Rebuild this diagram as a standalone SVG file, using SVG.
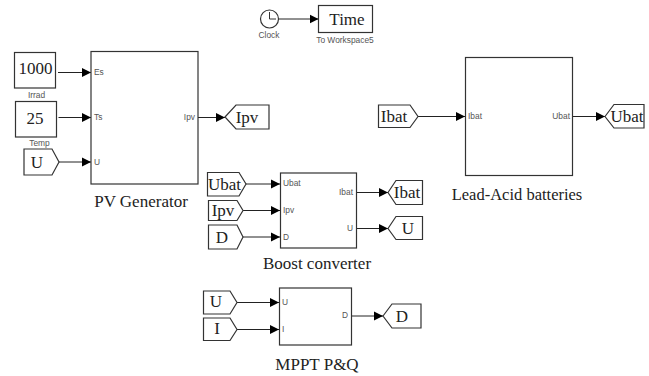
<svg xmlns="http://www.w3.org/2000/svg" width="649" height="376" viewBox="0 0 649 376">
<style>
.b{fill:#fff;stroke:#333;stroke-width:1.2}
.w{stroke:#222;stroke-width:1;fill:none;marker-end:url(#a)}
.t{font-family:"Liberation Serif",serif;fill:#222;text-anchor:middle;font-size:17px}
.p{font-family:"Liberation Sans",sans-serif;font-size:8.400px;fill:#555}
.e{text-anchor:end}
.n{text-anchor:middle}
</style>
<defs><marker id="a" markerUnits="userSpaceOnUse" markerWidth="10" markerHeight="10" refX="9" refY="5" orient="auto"><path d="M0 0.500L9 5L0 9.500Z" fill="#000"/></marker></defs>
<rect width="649" height="376" fill="#fff"/>
<g id="connectors">
<path class="w" d="M58 72.500H91"/>
<path class="w" d="M58.500 117.500H91"/>
<path class="w" d="M59 162H91"/>
<path class="w" d="M198 117.500H225"/>
<path class="w" d="M279 19H318.500"/>
<path class="w" d="M246 184H280"/>
<path class="w" d="M243 210.500H280"/>
<path class="w" d="M243 237H280"/>
<path class="w" d="M356 192.500H388"/>
<path class="w" d="M356 228.500H388"/>
<path class="w" d="M418 116.500H465"/>
<path class="w" d="M572 116.500H605"/>
<path class="w" d="M237 302.500H279"/>
<path class="w" d="M237 329.500H279"/>
<path class="w" d="M351 316H383"/>
</g>
<g id="clock"><circle class="b" cx="269.500" cy="19" r="9"/><path d="M269.500 12V19H276" fill="none" stroke="#333"/><text class="p n" x="269" y="38">Clock</text></g>
<g id="time"><rect class="b" x="318.500" y="5.500" width="54" height="27"/><text class="t" x="347" y="25">Time</text><text class="p n" x="345" y="43">To Workspace5</text></g>
<g id="irrad"><rect class="b" x="14.500" y="52.500" width="41" height="35.500"/><text class="t" x="35.500" y="74">1000</text><text class="p n" x="36.500" y="97.500">Irrad</text></g>
<g id="temp"><rect class="b" x="15.500" y="101.500" width="41" height="35.500"/><text class="t" x="35" y="124">25</text><text class="p n" x="39.500" y="146">Temp</text></g>
<g id="from-u1"><path class="b" d="M24 149H52L59 162L52 175H24Z"/><text class="t" x="37" y="168">U</text></g>
<g id="pv"><rect class="b" x="91" y="51.500" width="107" height="132.500"/><text class="p" x="94" y="75">Es</text><text class="p" x="94" y="120">Ts</text><text class="p" x="94" y="165">U</text><text class="p e" x="195" y="120">Ipv</text><text class="t" x="141" y="207">PV Generator</text></g>
<g id="goto-ipv"><path class="b" d="M225 117L236 105H269V129H236Z"/><text class="t" x="247" y="123">Ipv</text></g>
<g id="from-ubat"><path class="b" d="M207.500 172.500H239L246 184L239 196H207.500Z"/><text class="t" x="224.500" y="190">Ubat</text></g>
<g id="from-ipv"><path class="b" d="M208.500 200.500H237L243 210.500L237 220.500H208.500Z"/><text class="t" x="223" y="216">Ipv</text></g>
<g id="from-d"><path class="b" d="M208.500 225H237L243 237L237 249H208.500Z"/><text class="t" x="222" y="243">D</text></g>
<g id="boost"><rect class="b" x="280.500" y="173" width="76" height="75"/><text class="p" x="283" y="186">Ubat</text><text class="p" x="283" y="213">Ipv</text><text class="p" x="283" y="240">D</text><text class="p e" x="353" y="195">Ibat</text><text class="p e" x="353" y="231">U</text><text class="t" x="317" y="269">Boost converter</text></g>
<g id="goto-ibat"><path class="b" d="M388 192.500L396 180.500H422.500V204.500H396Z"/><text class="t" x="407" y="198">Ibat</text></g>
<g id="goto-u"><path class="b" d="M388 228.500L396 216.500H422.500V239.500H396Z"/><text class="t" x="408" y="234">U</text></g>
<g id="from-ibat"><path class="b" d="M378.500 105H410L418 116.500L410 127.500H378.500Z"/><text class="t" x="394" y="122">Ibat</text></g>
<g id="battery"><rect class="b" x="465.500" y="57.500" width="107" height="118"/><text class="p" x="468" y="119">Ibat</text><text class="p e" x="570" y="119">Ubat</text><text class="t" x="517" y="200" style="font-size:16.500px">Lead-Acid batteries</text></g>
<g id="goto-ubat"><path class="b" d="M605 116.500L614 104.500H644V128H614Z"/><text class="t" x="627" y="122">Ubat</text></g>
<g id="from-u2"><path class="b" d="M203.500 291H230L237 302.500L230 314H203.500Z"/><text class="t" x="216" y="307">U</text></g>
<g id="from-i"><path class="b" d="M203.500 318H230L237 329.500L230 340.500H203.500Z"/><text class="t" x="217" y="334">I</text></g>
<g id="mppt"><rect class="b" x="279.500" y="288" width="72" height="57"/><text class="p" x="282" y="305">U</text><text class="p" x="282" y="332">I</text><text class="p e" x="348" y="318">D</text><text class="t" x="317" y="370">MPPT P&amp;Q</text></g>
<g id="goto-d"><path class="b" d="M383 316L392 304H421V328H392Z"/><text class="t" x="402" y="322">D</text></g>
</svg>
